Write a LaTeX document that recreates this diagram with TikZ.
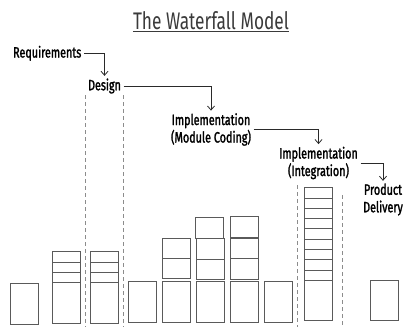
\documentclass[tikz,border=0pt]{standalone}
\usepackage{fontspec}
\setmainfont{Fira Sans}
\newfontfamily\titlefont[FakeStretch=0.72]{Fira Sans}
\newfontfamily\labfont[FakeStretch=0.72,FakeBold=1.6]{Fira Sans}
\usetikzlibrary{arrows.meta}
\definecolor{boxc}{HTML}{5A5A5A}
\definecolor{dashc}{HTML}{8C8C8C}
\definecolor{titlec}{HTML}{3A3A3A}
\definecolor{arrc}{HTML}{2A2A2A}
\begin{document}
\begin{tikzpicture}[x=1pt,y=-1pt,
  box/.style={draw=boxc, line width=0.9pt, inner sep=0pt, outer sep=0pt, minimum width=28pt, anchor=north west},
  dashln/.style={draw=dashc, line width=0.7pt, dash pattern=on 4pt off 3pt},
  lab/.style={font=\labfont\fontsize{15}{17.5}\selectfont, text=black, inner sep=2.5pt, align=center},
  ttlst/.style={font=\titlefont\fontsize{24}{28}\selectfont, text=titlec, inner sep=0pt},
  arr/.style={draw=arrc, line width=0.8pt, -{Straight Barb[length=4pt,width=7pt]}}]
\useasboundingbox (0,0) rectangle (406,327);
% title
\node[ttlst, anchor=base] (ttl) at (211,29.3) {The Waterfall Model};
\draw[titlec, line width=0.9pt] ([yshift=-1.8pt]ttl.base west) -- ([yshift=-1.8pt]ttl.base east);
% labels
\node[lab] (req) at (47.2,53.3) {Requirements};
\node[lab] (des) at (104.5,86) {Design};
\node[lab] (imp1) at (211,129.5) {Implementation\\(Module Coding)};
\node[lab] (imp2) at (318.5,163) {Implementation\\(Integration)};
\node[lab] (prod) at (383,199.5) {Product\\Delivery};
% connectors
\draw[arr] (req.east) -| (des.north);
\draw[arr] (des.east) -| (imp1.north);
\draw[arr] (imp1.east) -| (imp2.north);
\draw[arr] (imp2.east) -| (prod.north);
% dashed separators
\draw[dashln] (85.7,95) -- (85.7,327);
\draw[dashln] (123.5,95) -- (123.5,327);
\draw[dashln] (297.3,185) -- (297.3,327);
\draw[dashln] (342,195) -- (342,327);
% column 1
\node[box, minimum height=40.7pt] (c1) at (10.3,283.3) {};
% column 2
\node[box, minimum height=40.3pt] (c2) at (52.7,282.7) {};
\foreach \t [count=\i] in {251.7,262,272.3} \node[box, minimum height=10.3pt] (c2s\i) at (52.7,\t) {};
% column 3
\node[box, minimum height=40.3pt] (c3) at (90.3,282.7) {};
\foreach \t [count=\i] in {251.7,262,272.3} \node[box, minimum height=10.3pt] (c3s\i) at (90.3,\t) {};
% column 4
\node[box, minimum height=40.3pt] (c4) at (128.7,281.7) {};
% column 5
\node[box, minimum height=40.3pt] (c5) at (162.3,281.7) {};
\node[box, minimum height=20pt] (c5s1) at (162.3,238.3) {};
\node[box, minimum height=20pt] (c5s2) at (162.3,258.3) {};
% column 6
\node[box, minimum height=40.3pt] (c6) at (196,281.7) {};
\node[box, minimum height=20.5pt] (c6s1) at (196,238.5) {};
\node[box, minimum height=20pt] (c6s2) at (196,259) {};
\node[box, minimum height=21pt] (c6s0) at (195.6,217.3) {};
% column 7
\node[box, minimum height=40.3pt] (c7) at (230.3,281.7) {};
\node[box, minimum height=20.5pt] (c7s1) at (230.3,238.3) {};
\node[box, minimum height=20.2pt] (c7s2) at (230.3,258.8) {};
\node[box, minimum height=21pt] (c7s0) at (230.3,216.9) {};
% column 8
\node[box, minimum height=40.3pt] (c8) at (264,281.7) {};
% column 9 (integration stack)
\node[box, minimum height=40.4pt] (c9) at (304.3,280.3) {};
\foreach \i in {0,...,8} \node[box, minimum height=10.29pt] (c9s\i) at (304.3,{187.7+10.29*\i}) {};
% column 10
\node[box, minimum height=40pt] (c10) at (370,280) {};
\end{tikzpicture}
\end{document}
